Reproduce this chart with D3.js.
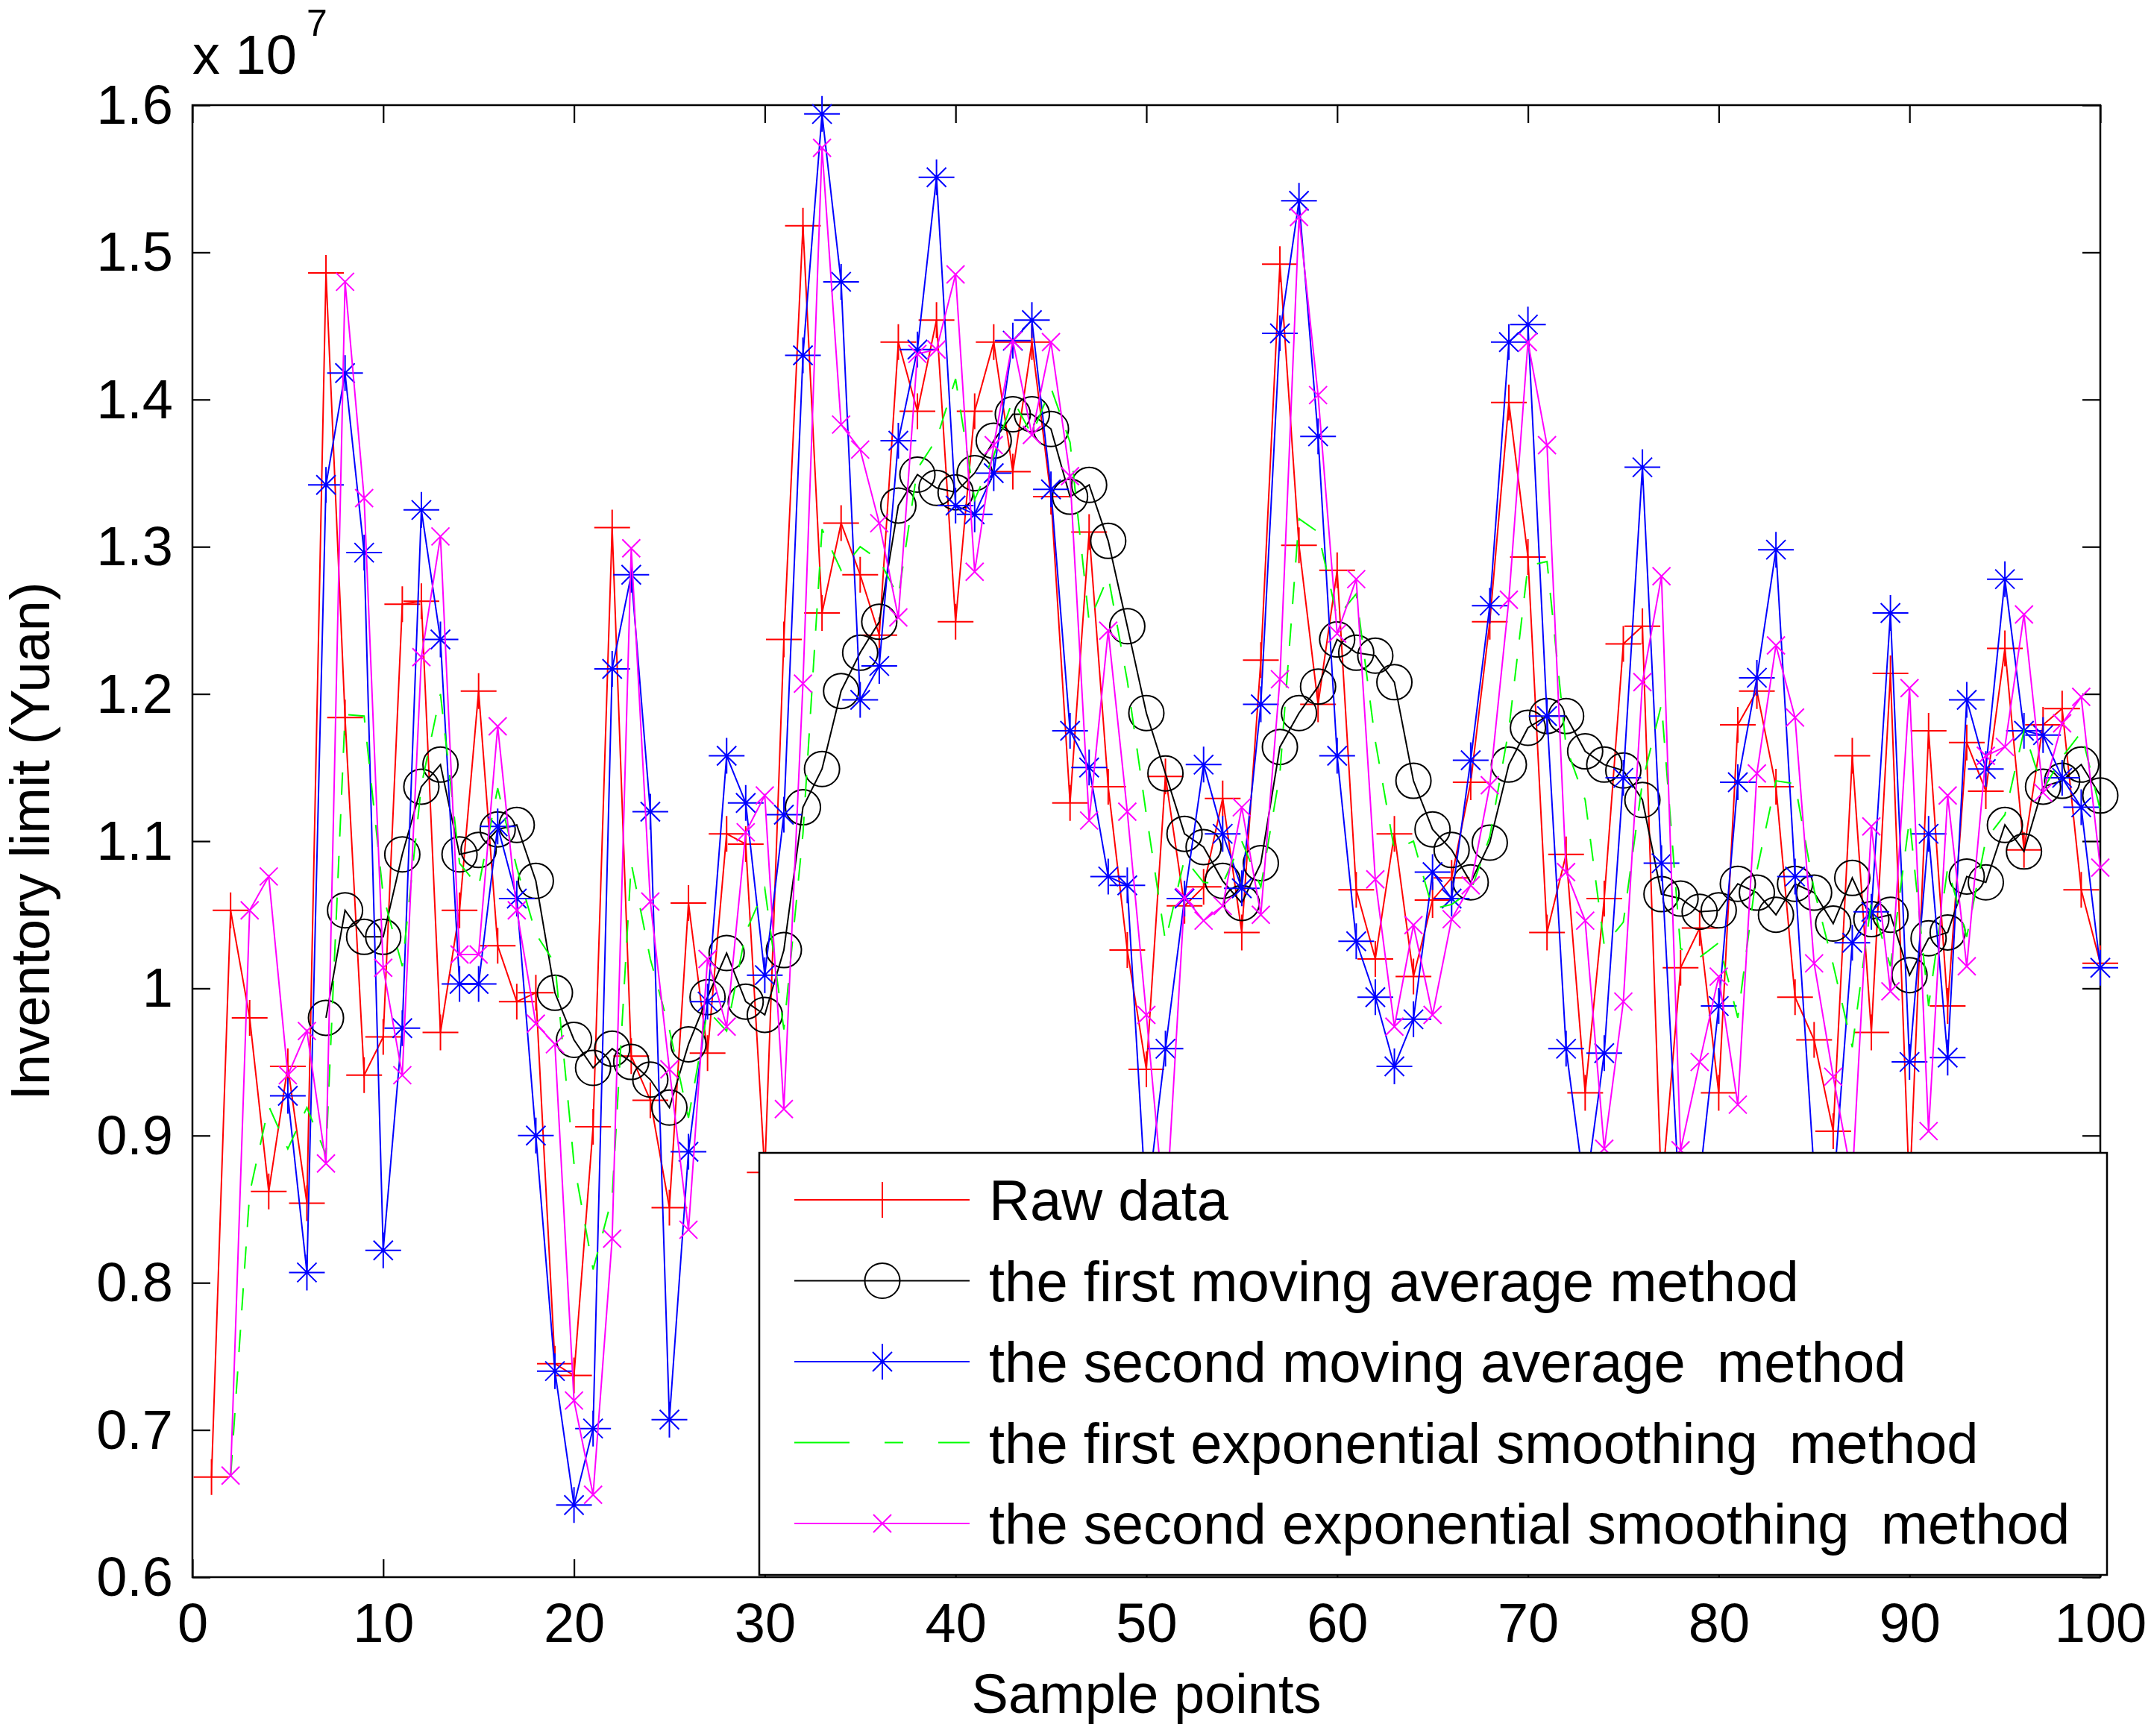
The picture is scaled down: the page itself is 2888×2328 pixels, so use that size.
<!DOCTYPE html>
<html>
<head>
<meta charset="utf-8">
<script src="https://cdn.jsdelivr.net/npm/d3@7"></script>
<style>
  body { margin: 0; background: #fff; }
  svg { display: block; }
  text { font-family: "Liberation Sans", Arial, Helvetica, sans-serif; fill: #000; }
</style>
</head>
<body>
<svg id="chart" width="2888" height="2328"></svg>
<script>
// ---------------- DATA (values in units of 10^7 Yuan) ----------------
const xTicks = [0, 10, 20, 30, 40, 50, 60, 70, 80, 90, 100];
const yTicks = [0.6, 0.7, 0.8, 0.9, 1, 1.1, 1.2, 1.3, 1.4, 1.5, 1.6];
const scaleExponent = "7";

// Raw data, sample points 1..100
const rawStart = 1;
const rawData = [
  0.668, 1.053, 0.980, 0.862, 0.947, 0.854, 1.486, 1.184, 0.941, 0.967,
  1.261, 1.263, 0.970, 1.053, 1.202, 1.029, 0.991, 0.997, 0.745, 0.737,
  0.906, 1.313, 0.954, 0.924, 0.851, 1.058, 0.956, 1.105, 1.098, 0.875,
  1.237, 1.518, 1.255, 1.316, 1.281, 1.240, 1.439, 1.392, 1.454, 1.249,
  1.392, 1.439, 1.351, 1.439, 1.334, 1.126, 1.310, 1.137, 1.026, 0.945,
  1.144, 1.056, 1.069, 1.129, 1.038, 1.223, 1.492, 1.301, 1.193, 1.284,
  1.067, 1.020, 1.105, 1.008, 1.060, 1.075, 1.140, 1.249, 1.398, 1.293,
  1.038, 1.091, 0.929, 1.061, 1.234, 1.246, 0.860, 1.014, 1.041, 0.929,
  1.179, 1.202, 1.137, 0.994, 0.965, 0.903, 1.158, 0.970, 1.214, 0.860,
  1.175, 0.988, 1.167, 1.134, 1.231, 1.094, 1.179, 1.190, 1.067, 1.017
];

// First moving average, sample points 7..100
const firstMAStart = 7;
const firstMA = [
  0.980, 1.053, 1.035, 1.035, 1.091, 1.137, 1.152, 1.091, 1.094, 1.108,
  1.111, 1.073, 0.997, 0.965, 0.946, 0.959, 0.950, 0.938, 0.919, 0.962,
  0.994, 1.024, 0.991, 0.982, 1.026, 1.123, 1.149, 1.202, 1.228, 1.249,
  1.328, 1.349, 1.340, 1.337, 1.350, 1.372, 1.390, 1.390, 1.380, 1.334,
  1.342, 1.304, 1.246, 1.187, 1.146, 1.105, 1.096, 1.073, 1.058, 1.085,
  1.164, 1.187, 1.205, 1.237, 1.228, 1.226, 1.208, 1.141, 1.108, 1.094,
  1.072, 1.099, 1.152, 1.177, 1.185, 1.185, 1.161, 1.152, 1.148, 1.128,
  1.064, 1.061, 1.052, 1.053, 1.071, 1.065, 1.050, 1.071, 1.065, 1.044,
  1.075, 1.047, 1.050, 1.009, 1.034, 1.038, 1.076, 1.072, 1.111, 1.093,
  1.137, 1.141, 1.152, 1.131
];

// Second moving average, sample points 5..100
const secondMAStart = 5;
const secondMA = [
  0.927, 0.807, 1.342, 1.418, 1.296, 0.822, 0.973, 1.325, 1.237, 1.003,
  1.003, 1.110, 1.061, 0.900, 0.740, 0.649, 0.701, 1.217, 1.281, 1.120,
  0.707, 0.889, 0.991, 1.158, 1.126, 1.009, 1.118, 1.430, 1.594, 1.480,
  1.196, 1.219, 1.372, 1.434, 1.551, 1.328, 1.322, 1.350, 1.440, 1.454,
  1.339, 1.175, 1.150, 1.076, 1.070, 0.850, 0.959, 1.061, 1.152, 1.105,
  1.068, 1.193, 1.445, 1.535, 1.375, 1.158, 1.032, 0.994, 0.947, 0.979,
  1.079, 1.061, 1.155, 1.260, 1.439, 1.451, 1.185, 0.959, 0.860, 0.956,
  1.143, 1.354, 1.085, 0.840, 0.870, 0.988, 1.140, 1.211, 1.298, 1.076,
  0.875, 0.860, 1.031, 1.052, 1.255, 0.950, 1.105, 0.953, 1.196, 1.149,
  1.278, 1.175, 1.172, 1.143, 1.123, 1.014
];

// First exponential smoothing, sample points 2..100
const firstESStart = 2;
const firstES = [
  0.668, 0.861, 0.920, 0.891, 0.919, 0.887, 1.186, 1.185, 1.063, 1.015,
  1.138, 1.200, 1.085, 1.069, 1.136, 1.082, 1.037, 1.017, 0.881, 0.809,
  0.858, 1.085, 1.020, 0.972, 0.912, 0.985, 0.971, 1.038, 1.068, 0.972,
  1.105, 1.312, 1.284, 1.300, 1.291, 1.266, 1.353, 1.373, 1.414, 1.332,
  1.362, 1.400, 1.376, 1.408, 1.371, 1.249, 1.280, 1.209, 1.118, 1.032,
  1.088, 1.072, 1.071, 1.100, 1.069, 1.146, 1.319, 1.310, 1.252, 1.268,
  1.168, 1.094, 1.100, 1.054, 1.057, 1.066, 1.103, 1.176, 1.287, 1.290,
  1.164, 1.128, 1.029, 1.045, 1.140, 1.193, 1.027, 1.021, 1.031, 0.980,
  1.080, 1.141, 1.139, 1.067, 1.016, 0.960, 1.059, 1.015, 1.115, 0.988,
  1.082, 1.035, 1.101, 1.118, 1.175, 1.135, 1.157, 1.174, 1.121
];

// Second exponential smoothing, sample points 2..100
const secondESStart = 2;
const secondES = [
  0.669, 1.053, 1.076, 0.941, 0.971, 0.881, 1.480, 1.333, 1.014, 0.941,
  1.225, 1.307, 1.023, 1.023, 1.178, 1.053, 0.976, 0.962, 0.720, 0.656,
  0.830, 1.299, 1.059, 0.945, 0.836, 1.020, 0.974, 1.106, 1.131, 0.918,
  1.207, 1.571, 1.383, 1.366, 1.316, 1.252, 1.431, 1.434, 1.485, 1.283,
  1.369, 1.440, 1.376, 1.439, 1.348, 1.114, 1.243, 1.120, 0.982, 0.840,
  1.062, 1.046, 1.056, 1.123, 1.050, 1.210, 1.524, 1.403, 1.241, 1.278,
  1.074, 0.974, 1.043, 0.982, 1.047, 1.070, 1.138, 1.264, 1.439, 1.369,
  1.079, 1.046, 0.891, 0.991, 1.208, 1.280, 0.890, 0.950, 1.008, 0.921,
  1.146, 1.233, 1.184, 1.017, 0.940, 0.870, 1.110, 0.998, 1.204, 0.903,
  1.131, 1.015, 1.158, 1.164, 1.254, 1.133, 1.180, 1.198, 1.082
];

const seriesNames = [
  "Raw data",
  "the first moving average method",
  "the second moving average  method",
  "the first exponential smoothing  method",
  "the second exponential smoothing  method"
];
const xLabel = "Sample points";
const yLabel = "Inventory limit (Yuan)";

// ---------------- LAYOUT ----------------
const W = 2888, H = 2328;
const M = { l: 258, r: 2816, t: 141, b: 2115 };
const FONT = 74;

const svg = d3.select("#chart");
svg.append("rect").attr("width", W).attr("height", H).attr("fill", "#fff");

const x = d3.scaleLinear().domain([0, 100]).range([M.l, M.r]);
const y = d3.scaleLinear().domain([0.6, 1.6]).range([M.b, M.t]);

// series definitions
const series = [
  { name: seriesNames[0], color: "#ff0000", start: rawStart, values: rawData, marker: "plus" },
  { name: seriesNames[1], color: "#000000", start: firstMAStart, values: firstMA, marker: "circle" },
  { name: seriesNames[2], color: "#0000ff", start: secondMAStart, values: secondMA, marker: "star" },
  { name: seriesNames[3], color: "#00ff00", start: firstESStart, values: firstES, marker: "none", dash: "30,26" },
  { name: seriesNames[4], color: "#ff00ff", start: secondESStart, values: secondES, marker: "cross" }
];

function markerPath(type, cx, cy) {
  const P = 24, X = 12;
  const plus = `M${cx - P},${cy}H${cx + P}M${cx},${cy - P}V${cy + P}`;
  const cross = (h) => `M${cx - h},${cy - h}L${cx + h},${cy + h}M${cx - h},${cy + h}L${cx + h},${cy - h}`;
  if (type === "plus") return plus;
  if (type === "cross") return cross(X);
  if (type === "star") return plus + cross(13);
  return "";
}

// ---------------- AXES ----------------
const tickLen = 24;
function styleAxis(g) {
  g.select(".domain").remove();
  g.selectAll(".tick line").attr("stroke", "#000").attr("stroke-width", 2.2);
  g.selectAll("text").attr("font-size", FONT).attr("fill", "#000")
    .attr("font-family", '"Liberation Sans", Arial, sans-serif');
}

const gx = svg.append("g").attr("transform", `translate(0,${M.b})`)
  .call(d3.axisBottom(x).tickValues(xTicks).tickSize(-tickLen).tickPadding(0).tickFormat(d => String(d)));
styleAxis(gx);
gx.selectAll("text").attr("y", 87).attr("dy", null);

const gxt = svg.append("g").attr("transform", `translate(0,${M.t})`)
  .call(d3.axisTop(x).tickValues(xTicks).tickSize(-tickLen).tickFormat(""));
styleAxis(gxt);

const gy = svg.append("g").attr("transform", `translate(${M.l},0)`)
  .call(d3.axisLeft(y).tickValues(yTicks).tickSize(-tickLen).tickPadding(0).tickFormat(d => String(d)));
styleAxis(gy);
gy.selectAll("text").attr("x", -26).attr("dy", "0.33em");

const gyr = svg.append("g").attr("transform", `translate(${M.r},0)`)
  .call(d3.axisRight(y).tickValues(yTicks).tickSize(-tickLen).tickFormat(""));
styleAxis(gyr);

svg.append("rect")
  .attr("x", M.l).attr("y", M.t).attr("width", M.r - M.l).attr("height", M.b - M.t)
  .attr("fill", "none").attr("stroke", "#000").attr("stroke-width", 2.5);

// exponent label
const expo = svg.append("text").attr("x", M.l).attr("y", 99).attr("font-size", FONT);
expo.append("tspan").text("x 10");
svg.append("text").attr("x", 411).attr("y", 48).attr("font-size", 50).text(scaleExponent);

// axis titles
svg.append("text").attr("x", (M.l + M.r) / 2).attr("y", 2297)
  .attr("text-anchor", "middle").attr("font-size", FONT).text(xLabel);
svg.append("text").attr("transform", `translate(66,${(M.t + M.b) / 2}) rotate(-90)`)
  .attr("text-anchor", "middle").attr("font-size", FONT).text(yLabel);

// ---------------- DATA MARKS ----------------
const line = d3.line().x(d => x(d.s)).y(d => y(d.v));
const plotG = svg.append("g");
series.forEach(s => {
  const pts = s.values.map((v, i) => ({ s: s.start + i, v }));
  s.pts = pts;
  plotG.append("path").datum(pts).attr("d", line)
    .attr("fill", "none").attr("stroke", s.color).attr("stroke-width", 2)
    .attr("stroke-dasharray", s.dash || null);
  if (s.marker === "circle") {
    plotG.append("g").selectAll("circle").data(pts).join("circle")
      .attr("cx", d => x(d.s)).attr("cy", d => y(d.v)).attr("r", 23.5)
      .attr("fill", "none").attr("stroke", s.color).attr("stroke-width", 2);
  } else if (s.marker !== "none") {
    plotG.append("g").selectAll("path").data(pts).join("path")
      .attr("d", d => markerPath(s.marker, x(d.s), y(d.v)))
      .attr("fill", "none").attr("stroke", s.color).attr("stroke-width", 2);
  }
});

// ---------------- LEGEND ----------------
const L = { x: 1018, y: 1546, w: 1807, h: 566, row0: 1609, rowStep: 108.5, lx0: 1065, lx1: 1300, mx: 1183, tx: 1326 };
const lg = svg.append("g");
lg.append("rect").attr("x", L.x).attr("y", L.y).attr("width", L.w).attr("height", L.h)
  .attr("fill", "#fff").attr("stroke", "#000").attr("stroke-width", 2.5);
series.forEach((s, i) => {
  const ry = L.row0 + i * L.rowStep;
  lg.append("line").attr("x1", L.lx0).attr("x2", L.lx1).attr("y1", ry).attr("y2", ry)
    .attr("stroke", s.color).attr("stroke-width", 2).attr("stroke-dasharray", s.dash ? "74,47,25,47" : null);
  if (s.marker === "circle") {
    lg.append("circle").attr("cx", L.mx).attr("cy", ry).attr("r", 23.5)
      .attr("fill", "none").attr("stroke", s.color).attr("stroke-width", 2);
  } else if (s.marker !== "none") {
    lg.append("path").attr("d", markerPath(s.marker, L.mx, ry))
      .attr("fill", "none").attr("stroke", s.color).attr("stroke-width", 2);
  }
  lg.append("text").attr("x", L.tx).attr("y", ry + 27).attr("font-size", 76)
    .style("white-space", "pre").attr("xml:space", "preserve").text(s.name);
});
</script>
</body>
</html>
